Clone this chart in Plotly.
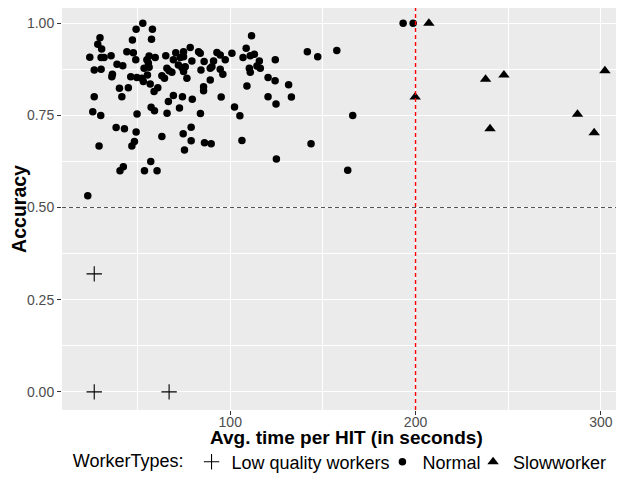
import plotly.graph_objects as go

# ---- data ----
low_x = [26.6, 26.6, 67.0]
low_y = [0.32, 0.0, 0.0]

normal_x = [
    24.2, 28.5, 29.7, 30.6, 30.3, 31.9, 35.7, 26.6, 30.3, 38.9, 42.0, 36.4, 36.1, 44.2, 47.7, 47.2, 49.2, 49.0,
    46.3, 49.6, 40.2, 45.0, 26.6, 41.5, 25.8, 30.1, 49.7, 38.4, 42.9, 49.2, 48.3, 46.9, 29.2, 40.5, 42.3, 23.1,
    52.8, 58.0, 57.5, 56.2, 59.5, 65.2, 55.0, 55.8, 53.5, 56.2, 65.8, 67.0, 52.3, 55.3, 53.1, 56.8, 63.1, 64.5,
    60.9, 58.9, 66.6, 57.3, 59.1, 65.9, 63.1, 57.1, 53.7, 60.5,
    111.5, 78.4, 70.6, 74.8, 82.9, 83.8, 92.8, 94.6, 100.9, 108.6, 106.9, 110.8, 113.0, 115.7, 69.3, 73.0, 74.8,
    72.0, 73.9, 75.7, 79.3, 85.9, 91.0, 97.3, 84.2, 89.2, 90.1, 94.6, 96.0, 68.5, 74.8, 76.6, 110.3, 110.8, 114.4,
    116.2, 89.2, 85.6, 85.6, 109.0, 95.1, 102.3, 105.2, 83.9, 79.5, 74.2, 69.3, 72.6, 78.9, 74.6, 78.9, 75.3,
    86.1, 89.7, 106.3,
    124.3, 120.4, 124.2, 131.5, 120.4, 124.7, 133.0, 141.6, 147.2, 157.5, 166.1, 143.6, 124.9, 163.4, 193.3, 198.7,
]
normal_y = [
    0.908, 0.943, 0.961, 0.930, 0.907, 0.907, 0.912, 0.873, 0.875, 0.889, 0.885, 0.862, 0.855, 0.923, 0.920, 0.955,
    0.984, 0.901, 0.855, 0.853, 0.824, 0.825, 0.801, 0.801, 0.760, 0.750, 0.754, 0.717, 0.714, 0.705, 0.679, 0.667,
    0.667, 0.600, 0.611, 0.532,
    1.000, 0.984, 0.957, 0.911, 0.907, 0.912, 0.901, 0.892, 0.878, 0.881, 0.878, 0.871, 0.851, 0.860, 0.842, 0.835,
    0.858, 0.851, 0.825, 0.815, 0.788, 0.772, 0.763, 0.756, 0.693, 0.625, 0.600, 0.600,
    0.966, 0.934, 0.920, 0.923, 0.923, 0.919, 0.921, 0.914, 0.919, 0.932, 0.907, 0.912, 0.916, 0.898, 0.901, 0.907,
    0.909, 0.887, 0.880, 0.882, 0.898, 0.896, 0.898, 0.901, 0.873, 0.878, 0.882, 0.875, 0.862, 0.867, 0.869, 0.851,
    0.878, 0.867, 0.884, 0.878, 0.846, 0.828, 0.817, 0.830, 0.800, 0.773, 0.749, 0.755, 0.794, 0.801, 0.804, 0.770,
    0.718, 0.700, 0.681, 0.656, 0.676, 0.673, 0.682,
    0.901, 0.853, 0.844, 0.833, 0.801, 0.781, 0.800, 0.923, 0.909, 0.926, 0.750, 0.673, 0.632, 0.601, 1.000, 1.000,
]

slow_x = [207.2, 199.8, 237.8, 247.7, 240.2, 287.4, 296.4, 302.2]
slow_y = [1.0, 0.80, 0.848, 0.86, 0.714, 0.753, 0.703, 0.871]

y_ticks = [0.0, 0.25, 0.5, 0.75, 1.0]
y_tick_labels = ["0.00", "0.25", "0.50", "0.75", "1.00"]
x_ticks = [100, 200, 300]
x_tick_labels = ["100", "200", "300"]
accuracy_threshold = 0.5
time_threshold = 200
x_title = "Avg. time per HIT (in seconds)"
y_title = "Accuracy"

FONT = "Liberation Sans, Arial, sans-serif"
LEG_FONT = dict(size=18, color="black")

fig = go.Figure()
fig.add_trace(go.Scatter(
    x=low_x, y=low_y, mode="markers", name="Low quality workers", legend="legend",
    marker=dict(symbol="cross-thin-open", size=11, color="black",
                line=dict(color="black", width=1.1)),
))
fig.add_trace(go.Scatter(
    x=normal_x, y=normal_y, mode="markers", name="Normal", legend="legend2",
    marker=dict(symbol="circle", size=7.5, color="black", line=dict(width=0)),
))
fig.add_trace(go.Scatter(
    x=slow_x, y=slow_y, mode="markers", name="Slowworker", legend="legend3",
    marker=dict(symbol="triangle-up", size=10, color="black", line=dict(width=0)),
))

fig.add_hline(y=accuracy_threshold, line=dict(color="#555555", width=1.1, dash="4px,3px"))
fig.add_vline(x=time_threshold, line=dict(color="red", width=1.4, dash="4px,3px"))

# x-axis title (placed as paper annotation below the tick labels)
fig.add_annotation(
    text="<b>" + x_title + "</b>", xref="paper", yref="paper", x=0.5, y=0,
    xanchor="center", yanchor="top", xshift=3, yshift=-15, showarrow=False,
    font=dict(family=FONT, size=19, color="black"),
)

leg_common = dict(orientation="h", xref="container", yref="container", y=0.048, yanchor="middle",
                  font=LEG_FONT, itemsizing="trace", bgcolor="rgba(0,0,0,0)")

fig.update_layout(
    width=616, height=477,
    margin=dict(l=54, r=0, t=0, b=74.5, autoexpand=False),
    plot_bgcolor="#EBEBEB", paper_bgcolor="white",
    font=dict(family=FONT, size=14, color="black"),
    showlegend=True,
    legend=dict(x=0.102, xanchor="left",
                title=dict(text="WorkerTypes:", font=LEG_FONT, side="left"), **leg_common),
    legend2=dict(x=0.6078, xanchor="left", **leg_common),
    legend3=dict(x=0.755, xanchor="left", **leg_common),
    xaxis=dict(
        range=[9.2, 312.5], tickmode="array", tickvals=x_ticks, ticktext=x_tick_labels,
        showgrid=True, gridcolor="white", gridwidth=1.1, zeroline=False,
        ticks="outside", ticklen=4, tickcolor="#333333", tickwidth=1,
        tickfont=dict(size=14, color="#4D4D4D"), automargin=False, ticklabelstandoff=-5,
        minor=dict(tickmode="array", tickvals=[50, 150, 250], showgrid=True,
                   gridcolor="white", gridwidth=0.5, ticks=""),
        showline=False,
    ),
    yaxis=dict(
        range=[-0.0493, 1.0415], tickmode="array", tickvals=y_ticks, ticktext=y_tick_labels,
        showgrid=True, gridcolor="white", gridwidth=1.1, zeroline=False,
        ticks="outside", ticklen=4, tickcolor="#333333", tickwidth=1,
        tickfont=dict(size=14, color="#4D4D4D"), automargin=False,
        minor=dict(tickmode="array", tickvals=[0.125, 0.375, 0.625, 0.875], showgrid=True,
                   gridcolor="white", gridwidth=0.5, ticks=""),
        title=dict(text="<b>" + y_title + "</b>", font=dict(size=19.5, color="black")),
        showline=False,
    ),
)

fig.write_html("out.html")
